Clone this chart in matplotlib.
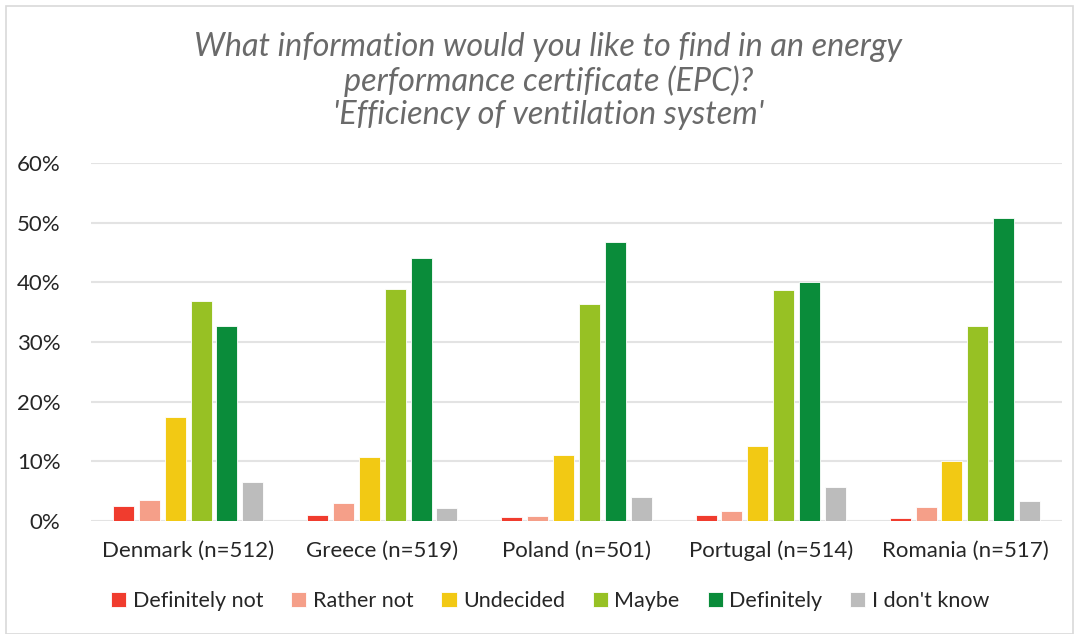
import numpy as np
import matplotlib.pyplot as plt
from matplotlib.patches import Rectangle

countries = ["Denmark (n=512)", "Greece (n=519)", "Poland (n=501)",
             "Portugal (n=514)", "Romania (n=517)"]
answers = ["Definitely not", "Rather not", "Undecided", "Maybe", "Definitely", "I don't know"]

definitely_not = [2.5, 1.0, 0.6, 1.0, 0.45]
rather_not = [3.5, 3.0, 0.8, 1.7, 2.4]
undecided = [17.4, 10.7, 11.1, 12.5, 10.0]
maybe = [36.8, 38.8, 36.3, 38.7, 32.7]
definitely = [32.6, 44.0, 46.8, 40.0, 50.8]
dont_know = [6.6, 2.1, 4.1, 5.7, 3.35]

series = [definitely_not, rather_not, undecided, maybe, definitely, dont_know]
colors = ["#F03C2E", "#F59F89", "#F2C914", "#97C124", "#0A8C3A", "#BCBCBC"]

plt.rcParams['font.family'] = ['Lato', 'DejaVu Sans']

fig = plt.figure(figsize=(10.79, 6.34), dpi=100)
ax = fig.add_axes([91 / 1079, 113 / 634, 971 / 1079, 358 / 634])

x = np.arange(len(countries))
slot = 0.133
width = 0.108
for i, (vals, c, lab) in enumerate(zip(series, colors, answers)):
    ax.bar(x + (i - 2.5) * slot, vals, width, color=c, label=lab,
           edgecolor='white', linewidth=0.6, zorder=3)

ax.set_xlim(-0.5, len(countries) - 0.5)
ax.set_ylim(0, 60)
ax.set_yticks(range(0, 61, 10))
ax.set_yticklabels([f"{v}%" for v in range(0, 61, 10)])
ax.set_xticks(x)
ax.set_xticklabels(countries)
ax.tick_params(length=0, labelsize=16, labelcolor='#262626')
ax.tick_params(axis='y', pad=22)
ax.tick_params(axis='x', pad=14)
ax.grid(axis='y', color='#E3E3E3', linewidth=1.5, zorder=0)
for s in ax.spines.values():
    s.set_visible(False)

fig.text(0.508, 0.872,
         "What information would you like to find in an energy\n"
         "performance certificate (EPC)?\n"
         "'Efficiency of ventilation system'",
         ha='center', va='center', fontsize=23.3, style='italic',
         color='#6A6A6A', linespacing=1.14)

fig.legend(loc='center', bbox_to_anchor=(0.51, 0.052), ncol=6, frameon=False,
           fontsize=15.5, handlelength=0.7, handleheight=0.7, handletextpad=0.3,
           columnspacing=1.3, labelcolor='#262626')

fig.patches.append(Rectangle((6 / 1079, 0), 1 - 12 / 1079, 1 - 6 / 634,
                             transform=fig.transFigure, fill=False,
                             edgecolor='#D9D9D9', linewidth=1.2))

plt.savefig('out.png', dpi=100)
